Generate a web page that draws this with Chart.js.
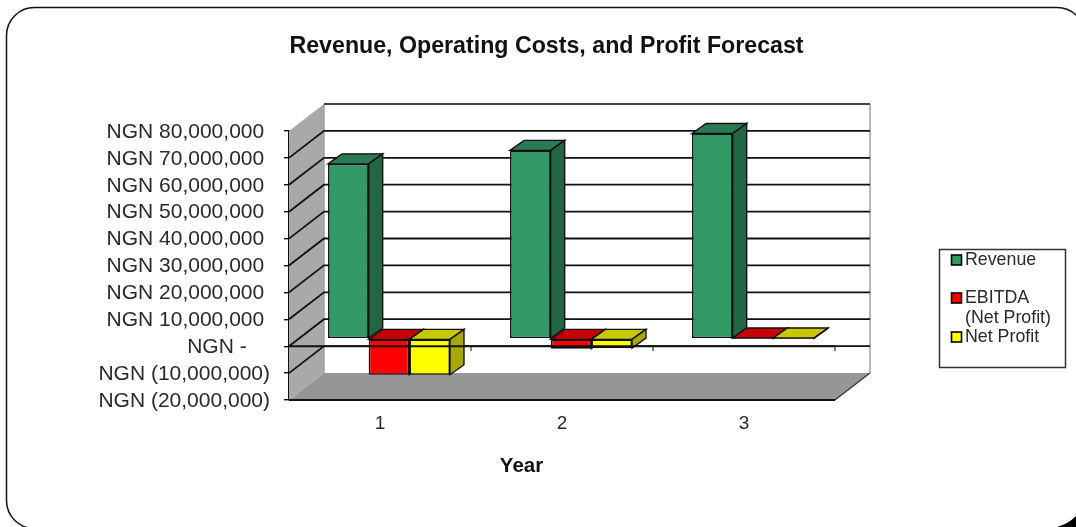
<!DOCTYPE html>
<html>
<head>
<meta charset="utf-8">
<style>
  html, body { margin: 0; padding: 0; background: #fff; overflow: hidden; }
  #chart { display: block; }
</style>
<script src="https://cdn.jsdelivr.net/npm/chart.js@4"></script>
</head>
<body>
<canvas id="chart" width="1076" height="527"></canvas>
<script>
const chartTitle = "Revenue, Operating Costs, and Profit Forecast";
const xAxisTitle = "Year";
const years = ["1", "2", "3"];
const revenue = [65000000, 70000000, 76300000];
const ebitda = [-13400000, -3700000, 100000];
const netProfit = [-13400000, -3500000, 100000];
const seriesLabels = ["Revenue", "EBITDA (Net Profit)", "Net Profit"];
const seriesColors = ["#339966", "#ff0000", "#ffff00"];
const topColors = ["#2a7a55", "#c80000", "#c8c800"];
const sideColors = ["#216645", "#a00000", "#a8a800"];

const FONT = "'Liberation Sans', Arial, sans-serif";
const INK = "#2a2a2a";
const LINE = "#111111";

// wall depth of the fake 3D box, and how far the bars sit inside it
const wallX = 35, wallY = 27;
const barShiftX = 9, barShiftY = 7.5;
const barDepthX = 14, barDepthY = 10;

function moneyLabel(value) {
    if (value === 0) return "NGN -    ";
    const text = Math.abs(value).toLocaleString("en-US");
    return value < 0 ? "NGN (" + text + ")" : "NGN " + text + " ";
}

function poly(ctx, points, fill, stroke, width) {
    ctx.beginPath();
    ctx.moveTo(points[0][0], points[0][1]);
    for (let i = 1; i < points.length; i++) ctx.lineTo(points[i][0], points[i][1]);
    ctx.closePath();
    if (fill) {
        ctx.fillStyle = fill;
        ctx.fill();
    }
    if (stroke) {
        ctx.strokeStyle = stroke;
        ctx.lineWidth = width;
        ctx.stroke();
    }
}

const box3d = {
    id: "box3d",
    beforeDatasetsDraw(chart) {
        const ctx = chart.ctx;
        const area = chart.chartArea;
        const y = chart.scales.y;
        const l = area.left, r = area.right, t = area.top, b = area.bottom;

        ctx.save();
        // left wall, floor, back wall
        poly(ctx, [[l, t], [l + wallX, t - wallY], [l + wallX, b - wallY], [l, b]], "#a9a9a9");
        poly(ctx, [[l, b], [l + wallX, b - wallY], [r + wallX, b - wallY], [r, b]], "#969696");
        ctx.strokeStyle = "#a0a0a0";
        ctx.lineWidth = 1.5;
        ctx.beginPath();
        ctx.moveTo(l + wallX, b - wallY);
        ctx.lineTo(l + wallX, t - wallY);
        ctx.moveTo(r + wallX, t - wallY);
        ctx.lineTo(r + wallX, b - wallY);
        ctx.stroke();

        // gridlines run along the left wall then across the back wall
        ctx.strokeStyle = LINE;
        ctx.lineWidth = 1.8;
        for (const tick of y.ticks) {
            const py = y.getPixelForValue(tick.value);
            if (tick.value === y.min || tick.value === y.max) continue;
            ctx.beginPath();
            ctx.moveTo(l, py);
            ctx.lineTo(l + wallX, py - wallY);
            ctx.lineTo(r + wallX, py - wallY);
            ctx.stroke();
        }

        // top of the back wall and floor edges
        ctx.strokeStyle = "#444444";
        ctx.beginPath();
        ctx.moveTo(l + wallX, t - wallY);
        ctx.lineTo(r + wallX, t - wallY);
        ctx.stroke();
        ctx.strokeStyle = LINE;
        ctx.beginPath();
        ctx.moveTo(l, b);
        ctx.lineTo(r, b);
        ctx.stroke();
        ctx.strokeStyle = "#333333";
        ctx.lineWidth = 1.2;
        ctx.beginPath();
        ctx.moveTo(r, b);
        ctx.lineTo(r + wallX, b - wallY);
        ctx.stroke();
        ctx.restore();
    },
    // bars get drawn below with their faces, skip the default pass
    beforeDatasetDraw() {
        return false;
    },
    afterDatasetsDraw(chart) {
        const ctx = chart.ctx;
        const area = chart.chartArea;
        const zero = chart.scales.y.getPixelForValue(0);
        const x = chart.scales.x;

        ctx.save();
        ctx.translate(barShiftX, -barShiftY);
        chart.data.datasets.forEach(function(dataset, i) {
            for (const bar of chart.getDatasetMeta(i).data) {
                const left = bar.x - bar.width / 2;
                const right = bar.x + bar.width / 2;
                const top = Math.min(bar.y, bar.base);
                const bottom = Math.max(bar.y, bar.base);
                poly(ctx, [[left, top], [left + barDepthX, top - barDepthY], [right + barDepthX, top - barDepthY], [right, top]], topColors[i], LINE, 1.4);
                poly(ctx, [[right, top], [right + barDepthX, top - barDepthY], [right + barDepthX, bottom - barDepthY], [right, bottom]], sideColors[i], LINE, 1.4);
                bar.draw(ctx);
            }
        });
        ctx.restore();

        // zero axis sits on top of the bars
        ctx.save();
        ctx.strokeStyle = LINE;
        ctx.lineWidth = 2;
        ctx.beginPath();
        ctx.moveTo(area.left, zero);
        ctx.lineTo(area.right, zero);
        ctx.stroke();
        ctx.lineWidth = 1;
        for (let i = 1; i <= years.length; i++) {
            const tx = area.left + (x.width / years.length) * i;
            ctx.beginPath();
            ctx.moveTo(tx, zero);
            ctx.lineTo(tx, zero + 5);
            ctx.stroke();
        }
        ctx.restore();
    },
    afterDraw(chart) {
        const ctx = chart.ctx;
        ctx.save();

        // title and Year label
        ctx.fillStyle = "#111111";
        ctx.textAlign = "center";
        ctx.textBaseline = "middle";
        ctx.font = "bold 23.2px " + FONT;
        ctx.fillText(chartTitle, 546.5, 46.5);
        ctx.font = "bold 20.5px " + FONT;
        ctx.fillText(xAxisTitle, 521.5, 466);

        // legend
        ctx.fillStyle = "#ffffff";
        ctx.strokeStyle = "#333333";
        ctx.lineWidth = 1.5;
        ctx.fillRect(939.5, 249.5, 126, 118);
        ctx.strokeRect(939.5, 249.5, 126, 118);
        ctx.font = "17.8px " + FONT;
        ctx.textAlign = "left";
        const rows = [260, 298, 337];
        seriesLabels.forEach(function(label, i) {
            ctx.fillStyle = seriesColors[i];
            ctx.fillRect(951.5, rows[i] - 5, 10, 10);
            ctx.strokeStyle = "#000000";
            ctx.lineWidth = 1.6;
            ctx.strokeRect(951.5, rows[i] - 5, 10, 10);
            ctx.fillStyle = INK;
            const split = label.indexOf(" (");
            if (split > 0) {
                ctx.fillText(label.slice(0, split), 965, rows[i]);
                ctx.fillText(label.slice(split + 1), 965, rows[i] + 20);
            } else {
                ctx.fillText(label, 965, rows[i]);
            }
        });

        // rounded frame of the slide, it runs off the right edge
        ctx.strokeStyle = "#111111";
        ctx.lineWidth = 1.5;
        ctx.beginPath();
        ctx.roundRect(6.5, 7.5, 1078.5, 521, 28);
        ctx.stroke();
        // dark corner showing at bottom right
        ctx.fillStyle = "#000000";
        ctx.beginPath();
        ctx.moveTo(1057, 527);
        ctx.quadraticCurveTo(1068, 524, 1076, 516);
        ctx.lineTo(1076, 527);
        ctx.closePath();
        ctx.fill();
        ctx.restore();
    }
};

new Chart(document.getElementById("chart"), {
    type: "bar",
    data: {
        labels: years,
        datasets: [
            { label: seriesLabels[0], data: revenue, backgroundColor: seriesColors[0] },
            { label: seriesLabels[1], data: ebitda, backgroundColor: seriesColors[1] },
            { label: seriesLabels[2], data: netProfit, backgroundColor: seriesColors[2] }
        ]
    },
    plugins: [box3d],
    options: {
        responsive: false,
        animation: false,
        categoryPercentage: 0.67,
        barPercentage: 1,
        datasets: {
            bar: {
                borderColor: LINE,
                borderWidth: 1.6,
                borderSkipped: false
            }
        },
        layout: { padding: { top: 131, left: 0, right: 241, bottom: 0 } },
        plugins: {
            legend: { display: false },
            tooltip: { enabled: false },
            title: { display: false }
        },
        scales: {
            x: {
                grid: { display: false },
                border: { display: false },
                ticks: { color: INK, font: { family: FONT, size: 19 }, padding: 4 },
                afterFit(scale) { scale.height = 127; }
            },
            y: {
                min: -20000000,
                max: 80000000,
                border: { color: LINE, width: 1.8 },
                grid: { drawOnChartArea: false, tickLength: 5, color: LINE, lineWidth: 1.4 },
                ticks: {
                    stepSize: 10000000,
                    autoSkip: false,
                    color: INK,
                    padding: 14,
                    labelOffset: 1,
                    font: { family: FONT, size: 21 },
                    callback: moneyLabel
                },
                afterFit(scale) { scale.width = 289; }
            }
        }
    }
});
</script>
</body>
</html>
